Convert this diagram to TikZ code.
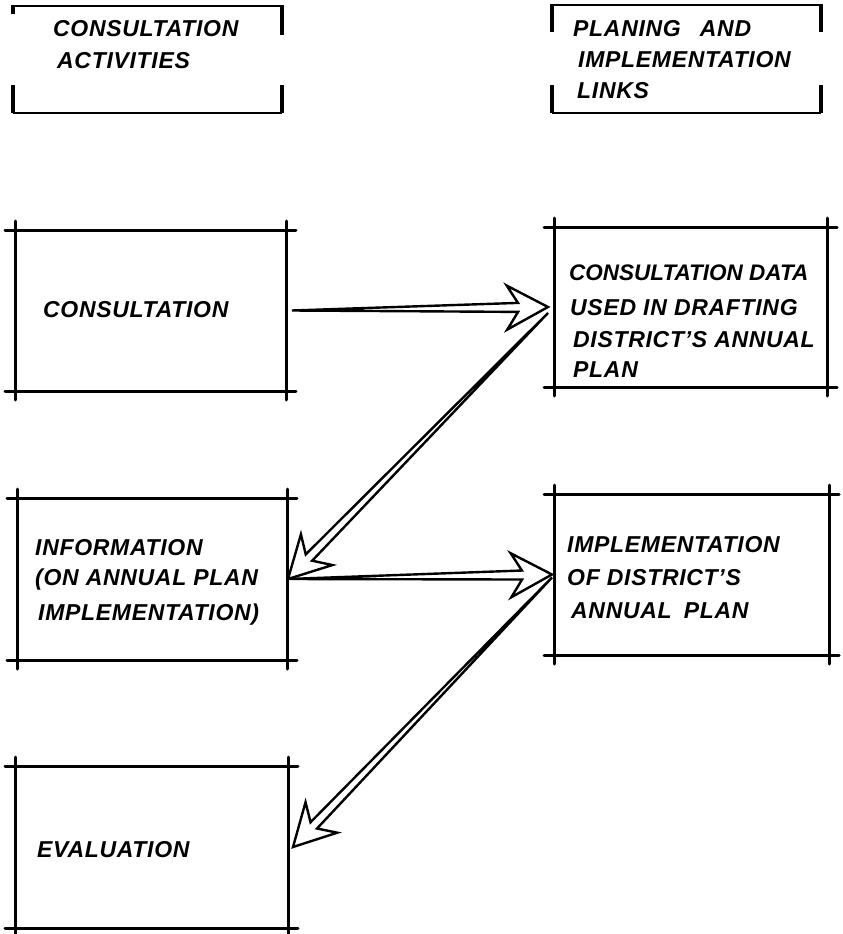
\documentclass[tikz,border=0pt]{standalone}
\usepackage{fontspec}
\setmainfont{Liberation Sans}
\usetikzlibrary{calc}
\tikzset{
  boxline/.style={line width=3pt, line cap=round},
  thinline/.style={line width=1.8pt},
  brackline/.style={line width=3.4pt},
  arrowline/.style={line width=2.4pt, line join=miter, fill=white},
  frame/.style={inner sep=0pt, outer sep=0pt, minimum width=#1},
  lbl/.style={anchor=base west, inner sep=0pt, font=\fontsize{23}{27}\selectfont\bfseries\itshape\addfontfeature{LetterSpace=3}},
  lblnarrow/.style={anchor=base west, inner sep=0pt, font=\fontsize{22.5}{27}\selectfont\bfseries\itshape},
}
\newcommand\crossbox[1]{%
  \draw[boxline] ([xshift=-10pt]#1.north west) -- ([xshift=10pt]#1.north east);
  \draw[boxline] ([xshift=-10pt]#1.south west) -- ([xshift=10pt]#1.south east);
  \draw[boxline] ([yshift=9pt]#1.north west) -- ([yshift=-9pt]#1.south west);
  \draw[boxline] ([yshift=9pt]#1.north east) -- ([yshift=-9pt]#1.south east);
}
\newcommand\hollowarrow[2]{%
  \path ($(#2)!41pt!(#1)$) coordinate (hb) ($(#2)!30pt!(#1)$) coordinate (hn);
  \draw[arrowline] (#1) -- ($(hn)!4.5pt!90:(#2)$) -- ($(hb)!22pt!90:(#2)$) -- (#2)
     -- ($(hb)!22pt!-90:(#2)$) -- ($(hn)!4.5pt!-90:(#2)$) -- cycle;
}
\begin{document}
\begin{tikzpicture}[x=1pt, y=-1pt]
\useasboundingbox (0,0) rectangle (843,934);

% header brackets
\node[frame=269pt, minimum height=107pt] (h1) at (147.5,59.5) {};
\node[frame=269pt, minimum height=108pt] (h2) at (686.5,59) {};
\draw[thinline] (h1.north west) -- (h1.north east);
\draw[thinline] (h1.south west) -- (h1.south east);
\draw[brackline] ([yshift=1pt]h1.north west) -- ([yshift=-8pt]h1.north west);
\draw[brackline] ([yshift=1pt]h1.north east) -- ([yshift=-29pt]h1.north east);
\draw[brackline] ([yshift=28pt]h1.south west) -- (h1.south west);
\draw[brackline] ([yshift=28pt]h1.south east) -- (h1.south east);
\draw[thinline] (h2.north west) -- (h2.north east);
\draw[thinline] (h2.south west) -- (h2.south east);
\draw[brackline] ([yshift=1pt]h2.north west) -- ([yshift=-27pt]h2.north west);
\draw[brackline] ([yshift=1pt]h2.north east) -- ([yshift=-27pt]h2.north east);
\draw[brackline] ([yshift=28pt]h2.south west) -- (h2.south west);
\draw[brackline] ([yshift=28pt]h2.south east) -- (h2.south east);

\node[lbl] (h1a) at (53,37) {CONSULTATION};
\node[lbl] (h1b) at (57,68) {ACTIVITIES};
\node[lbl] (h2a) at (573,37) {PLANING\hspace{12pt} AND};
\node[lbl] (h2b) at (578,67) {IMPLEMENTATION};
\node[lbl] (h2c) at (577,98) {LINKS};

% boxes
\node[frame=271pt, minimum height=161pt] (b1) at (150.5,310.5) {};
\node[frame=273pt, minimum height=160pt] (b2) at (690.5,307) {};
\node[frame=270pt, minimum height=162pt] (b3) at (152,579) {};
\node[frame=275pt, minimum height=161pt] (b4) at (691.5,574.5) {};
\node[frame=273pt, minimum height=162pt] (b5) at (151.5,847) {};
\crossbox{b1}\crossbox{b2}\crossbox{b3}\crossbox{b4}\crossbox{b5}

\node[lbl] (t1) at (43,317) {CONSULTATION};
\node[lblnarrow] (t2a) at (569,280) {CONSULTATION DATA};
\node[lbl] (t2b) at (570,315) {USED IN DRAFTING};
\node[lbl] (t2c) at (573,347) {DISTRICT'S ANNUAL};
\node[lbl] (t2d) at (573,377) {PLAN};
\node[lbl] (t3a) at (35,555) {INFORMATION};
\node[lbl] (t3b) at (35,585) {(ON ANNUAL PLAN};
\node[lbl] (t3c) at (38,620) {IMPLEMENTATION)};
\node[lbl] (t4a) at (567,552) {IMPLEMENTATION};
\node[lbl] (t4b) at (567,585) {OF DISTRICT'S};
\node[lbl] (t4c) at (571,618) {ANNUAL\hspace{5pt} PLAN};
\node[lbl] (t5) at (37,857) {EVALUATION};

% connector end points
\coordinate (a1s) at ([xshift=6pt]b1.east);
\coordinate (a1e) at ([xshift=-6pt]b2.west);
\coordinate (a2s) at ([shift={(-6pt,-6pt)}]b2.west);
\coordinate (a2e) at ([xshift=1pt]b3.east);
\coordinate (a3s) at ([xshift=1pt]b3.east);
\coordinate (a3e) at ([xshift=-2pt]b4.west);
\coordinate (a4s) at ([shift={(-2pt,-3pt)}]b4.west);
\coordinate (a4e) at ([xshift=5pt]b5.east);

\hollowarrow{a1s}{a1e}
\hollowarrow{a2s}{a2e}
\hollowarrow{a3s}{a3e}
\hollowarrow{a4s}{a4e}
\end{tikzpicture}
\end{document}
